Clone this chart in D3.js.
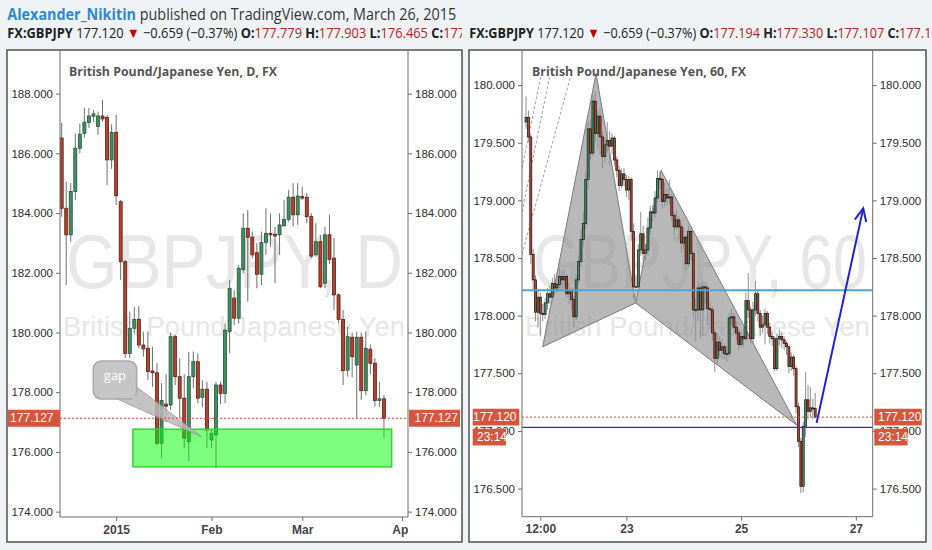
<!DOCTYPE html>
<html><head><meta charset="utf-8">
<script src="https://cdn.jsdelivr.net/npm/d3@7"></script>
<style>body{margin:0;background:#f0f3f6;}svg{display:block}</style>
</head><body><svg id="c" width="932" height="550"></svg>
<script>
// ---------- DAILY (left) ----------
const dOpen = [186.51,184.16,183.27,184.72,186.17,186.67,187.03,187.24,186.90,187.25,187.20,185.78,186.70,184.38,182.37,179.30,180.14,180.44,179.58,179.47,178.71,178.65,176.29,177.60,177.57,179.86,178.52,177.80,176.34,178.52,179.02,177.83,178.10,176.40,176.57,178.24,177.96,180.03,181.15,180.48,182.10,183.49,183.19,182.67,181.95,183.01,183.32,183.29,183.27,183.57,183.79,184.53,183.94,184.55,184.53,183.88,182.60,183.04,181.65,183.27,182.49,181.26,180.44,178.74,179.84,178.91,179.84,178.05,179.44,178.97,177.72,177.779];
const dHigh = [187.02,185.05,185.00,186.67,187.00,187.52,187.52,187.45,187.40,187.79,187.29,186.97,187.29,184.44,182.43,180.70,180.86,180.89,180.03,180.03,179.52,178.97,178.30,178.60,180.00,179.92,179.14,178.60,179.35,179.36,179.30,178.40,178.35,176.73,178.35,178.35,180.30,181.76,181.42,182.25,183.99,184.10,183.38,182.99,183.38,184.16,183.99,183.54,183.99,184.44,184.77,185.00,185.00,184.88,184.66,183.99,183.66,183.27,183.54,183.94,183.16,181.30,180.75,180.19,180.00,180.03,180.00,180.03,179.60,179.14,178.35,177.903];
const dLow = [183.88,181.59,183.04,184.44,186.00,186.52,186.85,187.06,186.62,187.06,184.94,185.48,184.27,181.76,179.15,179.14,179.97,179.47,179.19,178.41,178.18,176.23,175.79,177.00,177.40,178.24,177.13,176.12,175.70,178.13,177.63,177.51,176.12,176.12,175.45,177.60,177.63,179.30,180.25,180.30,181.98,181.03,182.49,181.48,181.59,182.60,182.87,181.65,182.60,183.55,183.71,183.55,183.60,184.44,183.66,182.49,182.54,181.48,181.48,182.30,180.75,180.30,178.24,178.52,178.50,177.13,177.74,177.90,178.60,177.51,177.50,176.465];
const dClose = [184.16,183.27,184.72,186.17,186.64,187.04,187.25,187.32,187.25,187.15,185.78,186.70,184.58,182.37,179.30,180.14,180.44,179.58,179.45,178.69,178.65,176.29,177.72,177.53,179.86,178.52,177.80,176.46,178.52,179.02,177.80,178.10,176.73,176.62,178.24,177.96,180.08,181.48,180.48,182.15,183.49,183.19,182.60,181.95,183.01,183.32,183.27,183.23,183.60,183.79,184.53,183.94,184.57,184.50,183.88,182.56,183.04,181.53,183.27,182.45,181.26,180.44,178.72,179.86,179.19,179.84,178.05,179.47,178.97,177.72,177.78,177.127];
const dTickIdx = [12,33,53,75];
const dTickLabels = ["2015","Feb","Mar","Apr"];
const dPriceTicks = [174,176,178,180,182,184,186,188];
const dLast = 177.127;
const dZone = {i0:15.7, i1:72.7, lo:175.5, hi:176.76};
const dCallout = {text:"gap", boxI:11.74, boxP:178.41, tipI:30.8, tipP:176.51};

// ---------- HOURLY (right) ----------
const hOpen = [179.68,179.72,179.55,178.53,178.31,178.03,178.16,178.02,178.01,178.11,
 178.19,178.16,178.28,178.24,178.27,178.34,178.31,178.34,178.19,178.22,
 178.14,177.99,178.31,178.47,178.66,178.80,179.18,179.62,179.41,179.86,
 179.58,179.73,179.55,179.38,179.48,179.52,179.47,179.54,179.35,179.26,
 179.13,179.23,179.18,179.09,179.18,178.73,178.25,178.25,178.57,178.71,
 178.54,178.57,178.76,178.90,178.89,179.02,179.19,179.18,178.99,179.05,
 179.02,179.03,178.87,178.77,178.83,178.77,178.63,178.68,178.45,178.73,
 178.54,178.05,178.05,178.24,178.05,178.25,178.24,178.06,178.05,177.85,
 177.63,177.77,177.70,177.73,177.67,177.67,177.98,177.99,177.90,177.85,
 177.75,177.82,177.80,178.13,178.05,177.80,178.05,178.19,178.02,177.90,
 177.92,178.02,177.90,177.82,177.80,177.54,177.80,177.82,177.79,177.76,
 177.73,177.56,177.64,177.54,177.21,176.91,176.52,177.04,177.27,177.17,
 177.20,177.194];
const hHigh = [179.90,179.78,179.58,178.58,178.35,178.22,178.20,178.10,178.15,178.24,
 178.26,178.33,178.36,178.38,178.42,178.40,178.40,178.36,178.28,178.25,
 178.17,178.36,178.52,178.75,178.90,179.25,179.68,179.70,179.92,179.95,
 179.78,179.80,179.60,179.55,179.68,179.60,179.58,179.56,179.38,179.30,
 179.27,179.28,179.22,179.21,179.20,178.80,178.35,178.62,178.90,178.78,
 178.62,178.85,178.95,178.96,179.08,179.26,179.25,179.20,179.15,179.10,
 179.18,179.06,178.90,178.92,178.86,178.80,178.76,178.70,178.78,178.75,
 178.56,178.15,178.30,178.28,178.30,178.30,178.27,178.12,178.08,177.88,
 177.85,177.82,177.80,177.76,177.74,178.02,178.06,178.02,177.95,177.88,
 177.87,177.90,178.20,178.37,178.08,178.12,178.30,178.22,178.05,178.00,
 178.06,178.04,177.94,177.86,177.82,177.84,177.88,177.86,177.82,177.78,
 177.75,177.68,177.66,177.56,177.24,176.94,177.08,177.51,177.40,177.38,
 177.28,177.33];
const hLow = [179.62,179.50,178.45,178.22,177.95,177.90,177.82,177.95,177.97,178.05,
 178.10,178.12,178.18,178.20,178.24,178.22,178.25,178.15,178.10,178.05,
 177.90,177.96,178.28,178.42,178.60,178.75,179.10,179.35,179.38,179.50,
 179.45,179.40,179.28,179.33,179.42,179.30,179.40,179.30,179.20,179.08,
 179.10,179.12,179.03,179.00,178.65,178.15,178.11,178.20,178.52,178.47,
 178.48,178.52,178.70,178.82,178.85,178.98,179.10,178.93,178.95,178.96,
 178.97,178.82,178.70,178.74,178.66,178.55,178.58,178.40,178.42,178.48,
 177.98,177.78,177.95,177.80,177.82,178.10,177.92,177.88,177.78,177.51,
 177.58,177.64,177.62,177.62,177.60,177.64,177.92,177.84,177.78,177.70,
 177.72,177.73,177.78,177.98,177.76,177.76,178.00,177.95,177.82,177.85,
 177.75,177.84,177.76,177.74,177.52,177.52,177.74,177.72,177.70,177.66,
 177.50,177.52,177.48,177.15,176.86,176.46,176.47,176.95,177.10,177.12,
 177.10,177.107];
const hClose = [179.72,179.55,178.53,178.31,178.03,178.16,178.02,178.01,178.11,178.19,
 178.16,178.28,178.24,178.27,178.34,178.31,178.34,178.19,178.22,178.14,
 177.99,178.31,178.47,178.66,178.80,179.18,179.62,179.41,179.86,179.58,
 179.73,179.55,179.38,179.48,179.52,179.47,179.54,179.35,179.26,179.13,
 179.23,179.18,179.09,179.18,178.73,178.25,178.25,178.57,178.71,178.54,
 178.57,178.76,178.90,178.89,179.02,179.19,179.18,178.99,179.05,179.02,
 179.03,178.87,178.77,178.83,178.77,178.63,178.68,178.45,178.73,178.54,
 178.05,178.05,178.24,178.05,178.25,178.24,178.06,178.05,177.85,177.63,
 177.77,177.70,177.73,177.67,177.67,177.98,177.99,177.90,177.85,177.75,
 177.82,177.80,178.13,178.05,177.80,178.05,178.19,178.02,177.90,177.92,
 178.02,177.90,177.82,177.80,177.54,177.80,177.82,177.79,177.76,177.73,
 177.56,177.64,177.54,177.21,176.91,176.52,177.04,177.27,177.17,177.20,
 177.19,177.12];
const hTickIdx = [6,42,90,138];
const hTickLabels = ["12:00","23","25","27"];
const hPriceTicks = [176.5,177,177.5,178,178.5,179,179.5,180];
const hLast = 177.120;
const hTriangles = [[[7.0,177.73],[29.3,180.10],[45.9,178.11]],[[45.9,178.11],[56.5,179.26],[113.3,177.05]]];
const hFan = [[[-1.67,179.28],[6.15,180.07]],[[-1.67,178.90],[9.87,180.07]],[[-1.67,178.53],[18.6,180.07]]];
const hLevelLight = 178.22;
const hLevelNavy = 177.03;
const hArrow = [[121.6,177.07],[141.1,178.93]];
const countdown = "23:14";

// ---------- header text ----------
const authorName = "Alexander_Nikitin";
const publishText = " published on TradingView.com, March 26, 2015";
const quoteLeft = {sym:"FX:GBPJPY", last:"177.120", chg:"\u22120.659 (\u22120.37%)", o:"177.779", h:"177.903", l:"176.465", c:"177.120"};
const quoteRight = {sym:"FX:GBPJPY", last:"177.120", chg:"\u22120.659 (\u22120.37%)", o:"177.194", h:"177.330", l:"177.107", c:"177.120"};

const FONT = "'Liberation Sans', Arial, sans-serif";
const svg = d3.select("#c");
svg.append("rect").attr("width",932).attr("height",550).attr("fill","#f0f3f6");
const defs = svg.append("defs");
defs.append("marker").attr("id","arrowhead").attr("markerUnits","userSpaceOnUse")
  .attr("viewBox","-14 -8 16 16").attr("refX",0).attr("refY",0)
  .attr("markerWidth",16).attr("markerHeight",16).attr("orient","auto")
  .append("path").attr("d","M-12,-5.5 L0,0 L-12,5.5").attr("fill","none")
  .attr("stroke","#1f22d8").attr("stroke-width",2).attr("stroke-linecap","round");

// fit a text to a target width by font size, then stretch vertically to the wanted glyph height
function fitText(parent, txt, x, yb, baseSize, targetW, fill){
  const t = parent.append("text").attr("font-family",FONT).attr("font-size",baseSize).attr("fill",fill).text(txt);
  const nat = t.node().getComputedTextLength();
  const fs = baseSize*targetW/nat;
  t.attr("font-size",fs).attr("transform",`translate(${x},${yb}) scale(1,${baseSize/fs})`);
  return t;
}

function makePanel(p){
  const g = svg.append("g");
  g.append("rect").attr("x",p.fx).attr("y",p.fy).attr("width",p.fw).attr("height",p.fh)
    .attr("fill","#fff").attr("stroke","#5b5b5b").attr("stroke-width",1.6);
  const x = d3.scaleLinear().domain(p.xDom).range([p.px0,p.px1]);
  const y = d3.scaleLinear().domain(p.yDom).range([p.py1,p.py0]);
  defs.append("clipPath").attr("id",p.id+"clip").append("rect")
    .attr("x",p.px0).attr("y",p.py0).attr("width",p.px1-p.px0).attr("height",p.py1-p.py0);
  defs.append("clipPath").attr("id",p.id+"xclip").append("rect")
    .attr("x",p.px0).attr("y",p.py1).attr("width",p.px1-p.px0).attr("height",p.fy+p.fh-p.py1);
  const plot = g.append("g").attr("clip-path",`url(#${p.id}clip)`);
  fitText(plot, p.wm1, p.wmX, 288, 76, p.wmW, "#e7e7e7");
  fitText(plot, p.wm2, p.wm2X, 336, 27, p.wm2W, "#e7e7e7");
  return {p,g,x,y,plot};
}

function drawCandles(P, O,Hh,L,C, bodyW, st){
  const {x,y,plot} = P;
  const idx = d3.range(O.length);
  plot.append("g").selectAll("line").data(idx).join("line")
    .attr("x1",i=>x(i)).attr("x2",i=>x(i))
    .attr("y1",i=>y(Hh[i])).attr("y2",i=>y(L[i]))
    .attr("stroke",st.wick).attr("stroke-width",1);
  plot.append("g").selectAll("rect").data(idx).join("rect")
    .attr("x",i=>x(i)-bodyW/2).attr("width",bodyW)
    .attr("y",i=>y(Math.max(O[i],C[i])))
    .attr("height",i=>Math.max(0.8,Math.abs(y(O[i])-y(C[i]))))
    .attr("fill",i=>C[i]>=O[i]?st.up:st.down)
    .attr("stroke",i=>C[i]>=O[i]?st.upB:st.downB).attr("stroke-width",st.bw);
}

function drawAxes(P, ticks, fmt, tickIdx, tickLabels){
  const {p,g,x,y} = P;
  const lc = "#6d6d6d";
  g.append("line").attr("x1",p.px0).attr("x2",p.px0).attr("y1",p.py0).attr("y2",p.py1).attr("stroke",lc);
  g.append("line").attr("x1",p.px1).attr("x2",p.px1).attr("y1",p.py0).attr("y2",p.py1).attr("stroke",lc);
  g.append("line").attr("x1",p.px0).attr("x2",p.px1).attr("y1",p.py1).attr("y2",p.py1).attr("stroke",lc);
  const style = sel => { sel.select(".domain").remove();
    sel.selectAll(".tick line").attr("stroke",lc);
    sel.selectAll(".tick text").attr("font-family",FONT).attr("font-size",11.5).attr("fill","#2b2b2b"); };
  g.append("g").attr("transform",`translate(${p.px0},0)`)
    .call(d3.axisLeft(y).tickValues(ticks).tickFormat(fmt).tickSize(4).tickPadding(3)).call(style);
  g.append("g").attr("transform",`translate(${p.px1},0)`)
    .call(d3.axisRight(y).tickValues(ticks).tickFormat(fmt).tickSize(4).tickPadding(3)).call(style);
  g.append("g").attr("clip-path",`url(#${p.id}xclip)`).append("g").attr("transform",`translate(0,${p.py1})`)
    .call(d3.axisBottom(x).tickValues(tickIdx).tickFormat((d,i)=>tickLabels[i]).tickSize(4).tickPadding(4))
    .call(style).call(s=>s.selectAll(".tick text").attr("font-weight","bold").attr("font-size",12).attr("fill","#444"));
}

function title(P, txt, tx, tw){
  P.g.append("text").attr("x",tx).attr("y",76).attr("font-family","'Open Sans', sans-serif")
    .attr("font-weight","bold").attr("font-size",13).attr("fill","#555")
    .attr("textLength",tw).attr("lengthAdjust","spacingAndGlyphs").text(txt);
}

function lastLine(P, v){
  const {p,g,y} = P;
  g.append("line").attr("x1",p.px0).attr("x2",p.px1).attr("y1",y(v)).attr("y2",y(v))
    .attr("stroke","#d04a33").attr("stroke-width",1).attr("stroke-dasharray","2,2");
}

function priceBox(g, x0, w, yc, h, txt, anchor, tx){
  g.append("rect").attr("x",x0).attr("y",yc-h/2).attr("width",w).attr("height",h).attr("fill","#d6553c");
  g.append("text").attr("x",tx).attr("y",yc+4.2).attr("text-anchor",anchor)
    .attr("font-family",FONT).attr("font-size",12).attr("fill","#fff").text(txt);
}

// ---------- LEFT PANEL ----------
const L = makePanel({id:"L", fx:7, fy:50, fw:455, fh:492, px0:60, px1:408, py0:50, py1:517,
  xDom:[-0.37,76.3], yDom:[173.82,189.46], wm1:"GBPJPY, D", wmX:66, wmW:337,
  wm2:"British Pound/Japanese Yen", wm2X:63, wm2W:342});
drawCandles(L, dOpen,dHigh,dLow,dClose, 3.0, {wick:"#6f6f6f", up:"#3f8f62", down:"#b5402c", upB:"#24563a", downB:"#5e1f15", bw:0.8});
lastLine(L, dLast);
// zone
L.plot.append("rect").attr("x",L.x(dZone.i0)).attr("width",L.x(dZone.i1)-L.x(dZone.i0))
  .attr("y",L.y(dZone.hi)).attr("height",L.y(dZone.lo)-L.y(dZone.hi))
  .attr("fill","#00ff00").attr("fill-opacity",0.5).attr("stroke","#2fd62f").attr("stroke-width",1.5);
// callout
{
  const cx = L.x(dCallout.boxI), cy = L.y(dCallout.boxP);
  const tx = L.x(dCallout.tipI), ty = L.y(dCallout.tipP);
  const cg = L.plot.append("g").attr("opacity",0.85);
  cg.append("path").attr("d",`M${cx+2},${cy+19} L${cx+21.7},${cy+7} L${tx},${ty} Z`)
    .attr("fill","#b9b9b9").attr("stroke","#9a9a9a").attr("stroke-width",1);
  cg.append("rect").attr("x",cx-21.7).attr("y",cy-19).attr("width",43.4).attr("height",38).attr("rx",8)
    .attr("fill","#bdbdbd").attr("stroke","#9a9a9a").attr("stroke-width",1.5);
  cg.append("rect").attr("x",cx+1).attr("y",cy+5).attr("width",19).attr("height",13).attr("fill","#bdbdbd");
  L.plot.append("text").attr("x",cx).attr("y",cy).attr("text-anchor","middle").attr("font-family","'Open Sans', sans-serif")
    .attr("font-size",13).attr("fill","#fff").text(dCallout.text);
}
drawAxes(L, dPriceTicks, d3.format(".3f"), dTickIdx, dTickLabels);
title(L, "British Pound/Japanese Yen, D, FX", 69, 208);
priceBox(L.g, 8, 52, L.y(dLast), 17, d3.format(".3f")(dLast), "end", 53.5);
priceBox(L.g, 409, 51, L.y(dLast), 17, d3.format(".3f")(dLast), "start", 414.5);

// ---------- RIGHT PANEL ----------
const R = makePanel({id:"R", fx:469, fy:50, fw:457, fh:492, px0:522, px1:872.7, py0:50, py1:516.7,
  xDom:[-1.674,145.06], yDom:[176.256,180.304], wm1:"GBPJPY, 60", wmX:533, wmW:334,
  wm2:"British Pound/Japanese Yen", wm2X:525, wm2W:345});
// harmonic triangles
R.plot.append("g").selectAll("path").data(hTriangles).join("path")
  .attr("d",t=>d3.line().x(d=>R.x(d[0])).y(d=>R.y(d[1]))(t)+"Z")
  .attr("fill","#8c8c8c").attr("fill-opacity",0.62).attr("stroke","#7a7a7a").attr("stroke-width",1);
// fan (dashed)
R.plot.append("g").selectAll("line").data(hFan).join("line")
  .attr("x1",d=>R.x(d[0][0])).attr("y1",d=>R.y(d[0][1])).attr("x2",d=>R.x(d[1][0])).attr("y2",d=>R.y(d[1][1]))
  .attr("stroke","#a0a0a0").attr("stroke-width",1).attr("stroke-dasharray","3,2");
drawCandles(R, hOpen,hHigh,hLow,hClose, 2.0, {wick:"#8f8f8f", up:"#3f9464", down:"#bb432d", upB:"#1f1f1f", downB:"#2a1410", bw:0.75});
R.plot.append("line").attr("x1",R.p.px0).attr("x2",R.p.px1).attr("y1",R.y(hLevelLight)).attr("y2",R.y(hLevelLight))
  .attr("stroke","#4aa3da").attr("stroke-width",2);
R.plot.append("line").attr("x1",R.p.px0).attr("x2",R.p.px1).attr("y1",R.y(hLevelNavy)).attr("y2",R.y(hLevelNavy))
  .attr("stroke","#2a2ee0").attr("stroke-width",1.2);
lastLine(R, hLast);
R.plot.append("line").attr("x1",R.x(hArrow[0][0])).attr("y1",R.y(hArrow[0][1]))
  .attr("x2",R.x(hArrow[1][0])).attr("y2",R.y(hArrow[1][1]))
  .attr("stroke","#1f22d8").attr("stroke-width",2).attr("marker-end","url(#arrowhead)");
drawAxes(R, hPriceTicks, d3.format(".3f"), hTickIdx, hTickLabels);
title(R, "British Pound/Japanese Yen, 60, FX", 532, 214);
priceBox(R.g, 472.7, 46.6, R.y(hLast), 16.7, d3.format(".3f")(hLast), "end", 516.5);
priceBox(R.g, 472.7, 33.3, R.y(hLast)+20, 16.7, countdown, "start", 477);
priceBox(R.g, 874.3, 47.4, R.y(hLast), 16.7, d3.format(".3f")(hLast), "start", 878);
priceBox(R.g, 874.3, 33.3, R.y(hLast)+20, 16.7, countdown, "start", 878);

// ---------- HEADER ----------
defs.append("clipPath").attr("id","hclipL").append("rect").attr("x",0).attr("y",20).attr("width",462).attr("height",26);
defs.append("clipPath").attr("id","hclipR").append("rect").attr("x",466).attr("y",20).attr("width",466).attr("height",26);
function headerText(parent, parts, x, yb, size, targetW, prefixN){
  const t = parent.append("text").attr("font-family","'Open Sans', sans-serif").attr("font-size",size).attr("xml:space","preserve");
  parts.forEach(pt => t.append("tspan").text(pt.t).attr("fill",pt.c).attr("font-weight",pt.b?"bold":"normal"));
  let len = 0;
  t.selectAll("tspan").each(function(d,i){ if(i<prefixN) len += this.getComputedTextLength(); });
  t.attr("transform",`translate(${x},${yb}) scale(${targetW/len},1)`);
}
headerText(svg, [{t:authorName,c:"#2a8ad4",b:true},{t:publishText,c:"#333"}], 7.3, 19.5, 16.5, 449, 2);
function quoteParts(q){
  const k="#222", r="#b8241c";
  return [{t:q.sym,c:k,b:true},{t:" "+q.last+" ",c:k},{t:"\u25BC",c:"#c00000"},{t:" "+q.chg+" ",c:k},
    {t:"O:",c:k,b:true},{t:q.o,c:r},{t:" H:",c:k,b:true},{t:q.h,c:r},{t:" L:",c:k,b:true},{t:q.l,c:r},
    {t:" C:",c:k,b:true},{t:q.c,c:r}];
}
headerText(svg.append("g").attr("clip-path","url(#hclipL)"), quoteParts(quoteLeft), 7.3, 37.8, 14.5, 421, 10);
headerText(svg.append("g").attr("clip-path","url(#hclipR)"), quoteParts(quoteRight), 469.3, 37.8, 14.5, 415, 10);
</script></body></html>
